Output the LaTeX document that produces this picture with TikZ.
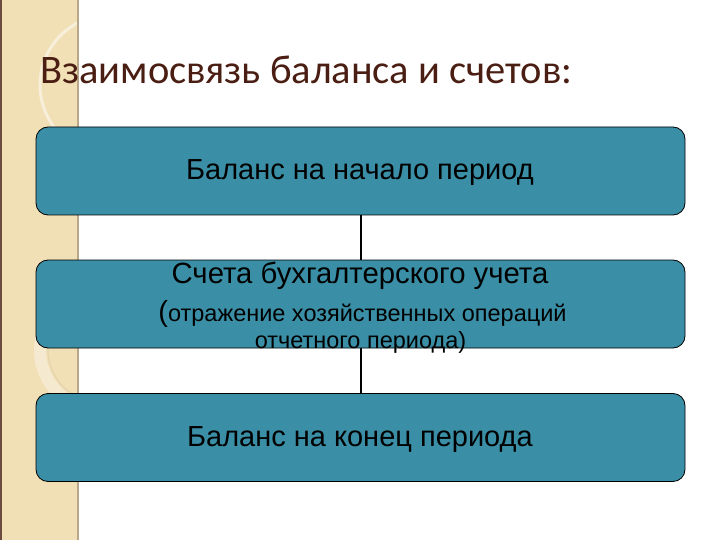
\documentclass[tikz,border=0pt]{standalone}
\usepackage{fontspec}
\setmainfont{Liberation Sans}
\newfontfamily\titlefont{Carlito}
\begin{document}
\begin{tikzpicture}[x=1pt,y=-1pt,
  stepbox/.style={draw=black, line width=0.8pt, fill=boxteal, rounded corners=12pt, minimum width=649pt, minimum height=88pt, inner sep=0pt},
  link/.style={draw=black, line width=2pt}]
\definecolor{boxteal}{HTML}{3A8FA6}
\definecolor{strip}{HTML}{F1E0B6}
\definecolor{stripedge}{HTML}{B8A888}
\definecolor{titlebrown}{HTML}{4A1E12}
\useasboundingbox (0,0) rectangle (720,540);
\fill[white] (0,0) rectangle (720,540);
\fill[strip] (0,0) rectangle (79,540);
\begin{scope}
\clip (0,0) rectangle (79,540);
\draw[white, opacity=0.5, line width=3pt] (110,85) circle (70);
\draw[white, opacity=0.35, line width=12pt] (100,350) circle (60);
\draw[stripedge, opacity=0.25, line width=1pt] (100,350) circle (52);
\end{scope}
\draw[stripedge, line width=1.2pt] (78,0) -- (78,540);
\draw[titlebrown!80, line width=1.5pt] (1,0) -- (1,540);
\node[anchor=base west, text=titlebrown, font=\titlefont\fontsize{40.5}{46}\selectfont, inner sep=0pt] (title) at (40,84) {Взаимосвязь баланса и счетов:};
\node[stepbox] (b1) at (360.5,171) {};
\node[stepbox] (b2) at (360.5,304) {};
\node[stepbox] (b3) at (360.5,437.5) {};
\draw[link] (b1.south) -- (b2.north);
\draw[link] (b2.south) -- (b3.north);
\node[font=\fontsize{29}{34}\selectfont, inner sep=0pt] (t1) at (360,173) {Баланс на начало период};
\node[font=\fontsize{29.3}{34}\selectfont, inner sep=0pt, anchor=base] (t2a) at (360,283) {Счета бухгалтерского учета};
\node[font=\fontsize{23.5}{28}\selectfont, inner sep=0pt, anchor=base] (t2b) at (362.5,321) {{\fontsize{29}{34}\selectfont(}отражение хозяйственных операций};
\node[font=\fontsize{23.5}{28}\selectfont, inner sep=0pt, anchor=base] (t2c) at (360.5,348) {отчетного периода)};
\node[font=\fontsize{29}{34}\selectfont, inner sep=0pt] (t3) at (360,440) {Баланс на конец периода};
\end{tikzpicture}
\end{document}
